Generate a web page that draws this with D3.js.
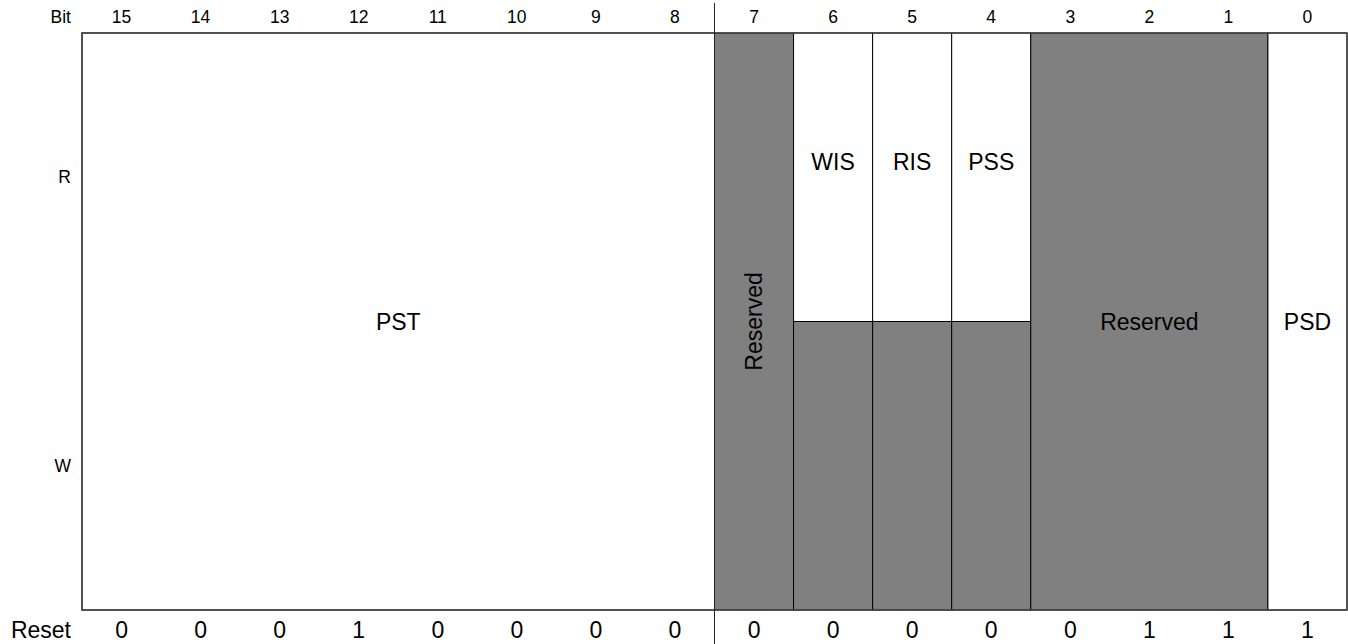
<!DOCTYPE html>
<html>
<head>
<meta charset="utf-8">
<script src="https://cdn.jsdelivr.net/npm/d3@7"></script>
<style>
html,body{margin:0;padding:0;background:#fff;}
svg{display:block;font-family:"Liberation Sans",Arial,Helvetica,sans-serif;}
</style>
</head>
<body>
<svg id="chart" width="1348" height="644"></svg>
<script>
const bits = [15,14,13,12,11,10,9,8,7,6,5,4,3,2,1,0];
const resetValues = [0,0,0,1,0,0,0,0,0,0,0,0,0,1,1,1];
const accessRows = ["R","W"];
const fieldNames = ["PST","Reserved","WIS","RIS","PSS","Reserved","PSD"];
const fieldMsb = [15,7,6,5,4,3,0];
const fieldLsb = [8,7,6,5,4,1,0];
const fieldAccess = ["rw","reserved","r","r","r","reserved","rw"];

(function(){
const fields = fieldNames.map((n,i)=>({name:n,msb:fieldMsb[i],lsb:fieldLsb[i],access:fieldAccess[i]}));

const svg = d3.select("#chart");
const x = d3.scaleBand().domain(bits).range([82,1347]).padding(0);
const y = d3.scaleBand().domain(accessRows).range([33,610]).padding(0);
const bw = x.bandwidth();
const yTop = y.range()[0], yBot = y.range()[1];
const yMid = y("W");
const GRAY = "#808080";

const g = svg.append("g");
fields.forEach(f=>{
  const x0 = x(f.msb), x1 = x(f.lsb)+bw;
  if(f.access==="reserved"){
    g.append("rect").attr("x",x0).attr("y",yTop).attr("width",x1-x0).attr("height",yBot-yTop)
      .attr("fill",GRAY).attr("stroke","#000").attr("stroke-width",1);
  } else if(f.access==="r"){
    g.append("rect").attr("x",x0).attr("y",yTop).attr("width",x1-x0).attr("height",yMid-yTop)
      .attr("fill","#fff").attr("stroke","#000").attr("stroke-width",1);
    g.append("rect").attr("x",x0).attr("y",yMid).attr("width",x1-x0).attr("height",yBot-yMid)
      .attr("fill",GRAY).attr("stroke","#000").attr("stroke-width",1);
  } else {
    g.append("rect").attr("x",x0).attr("y",yTop).attr("width",x1-x0).attr("height",yBot-yTop)
      .attr("fill","#fff").attr("stroke","#000").attr("stroke-width",1);
  }
});

svg.append("rect").attr("x",x(15)).attr("y",yTop).attr("width",x(0)+bw-x(15)).attr("height",yBot-yTop)
  .attr("fill","none").attr("stroke","#444").attr("stroke-width",1.5);

svg.append("line").attr("x1",x(7)).attr("x2",x(7)).attr("y1",3).attr("y2",644)
  .attr("stroke","#222").attr("stroke-width",1);

fields.forEach(f=>{
  const cx = (x(f.msb)+x(f.lsb)+bw)/2;
  const single = f.msb===f.lsb;
  if(f.access==="reserved" && single){
    svg.append("text").attr("transform",`translate(${cx},${(yTop+yBot)/2}) rotate(-90)`)
      .attr("text-anchor","middle").attr("dominant-baseline","central")
      .attr("font-size",23).attr("fill","#000").text(f.name);
  } else if(f.access==="r"){
    svg.append("text").attr("x",cx).attr("y",y("R")+y.bandwidth()/2-15)
      .attr("text-anchor","middle").attr("dominant-baseline","central")
      .attr("font-size",23).attr("fill","#000").text(f.name);
  } else {
    svg.append("text").attr("x",cx).attr("y",(yTop+yBot)/2)
      .attr("text-anchor","middle").attr("dominant-baseline","central")
      .attr("font-size",23).attr("fill","#000").text(f.name);
  }
});

svg.append("text").attr("x",71).attr("y",23).attr("text-anchor","end")
  .attr("font-size",17.5).text("Bit");
svg.selectAll("text.bit").data(bits).enter().append("text").attr("class","bit")
  .attr("x",d=>x(d)+bw/2).attr("y",23).attr("text-anchor","middle")
  .attr("font-size",17.5).text(d=>d);

svg.selectAll("text.acc").data(accessRows).enter().append("text").attr("class","acc")
  .attr("x",71).attr("y",d=>y(d)+y.bandwidth()/2).attr("text-anchor","end")
  .attr("dominant-baseline","central").attr("font-size",17.5).text(d=>d);

svg.append("text").attr("x",71).attr("y",638).attr("text-anchor","end")
  .attr("font-size",23).text("Reset");
svg.selectAll("text.rst").data(bits).enter().append("text").attr("class","rst")
  .attr("x",d=>x(d)+bw/2).attr("y",638).attr("text-anchor","middle")
  .attr("font-size",23).text((d,i)=>resetValues[i]);
})();
</script>
</body>
</html>
